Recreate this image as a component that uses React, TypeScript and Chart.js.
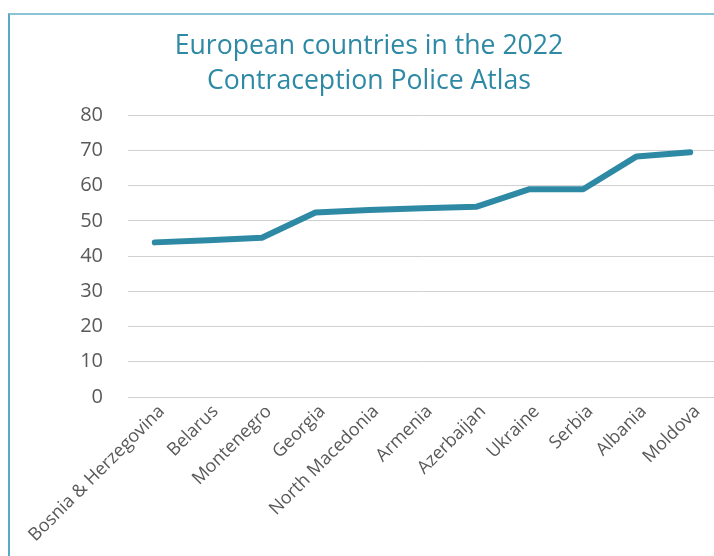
import React, { useEffect, useRef } from "react";
import { Chart, registerables } from "chart.js";

Chart.register(...registerables);

const categories = [
  "Bosnia & Herzegovina",
  "Belarus",
  "Montenegro",
  "Georgia",
  "North Macedonia",
  "Armenia",
  "Azerbaijan",
  "Ukraine",
  "Serbia",
  "Albania",
  "Moldova",
];
const values = [43.9, 44.5, 45.2, 52.4, 53.1, 53.6, 54.0, 59.0, 59.0, 68.3, 69.5];
const titleLines = ["European countries in the 2022", "Contraception Police Atlas"];
const yMin = 0;
const yMax = 80;
const yStep = 10;

export default function App() {
  const ref = useRef<HTMLCanvasElement | null>(null);
  useEffect(() => {
    if (!ref.current) return;
    const chart = new Chart(ref.current, {
      type: "line",
      data: {
        labels: categories,
        datasets: [
          {
            data: values,
            borderColor: "#2e89a5",
            borderWidth: 6,
            borderCapStyle: "round",
            borderJoinStyle: "round",
            pointRadius: 0,
            pointHoverRadius: 0,
            fill: false,
            tension: 0,
          },
        ],
      },
      options: {
        responsive: false,
        animation: false,
        devicePixelRatio: 1,
        layout: { padding: { left: 21, right: 7, top: 0, bottom: 0 } },
        plugins: {
          legend: { display: false },
          tooltip: { enabled: false },
          title: {
            display: true,
            text: titleLines,
            color: "#2e89a5",
            font: { family: "'Open Sans', 'Noto Sans', sans-serif", size: 26.6, weight: "normal", lineHeight: 1.32 },
            padding: { top: 29, bottom: 16 },
          },
        },
        scales: {
          x: {
            type: "category",
            offset: true,
            grid: { display: false, drawTicks: false },
            border: { display: false },
            ticks: {
              color: "#595959",
              font: { family: "'Open Sans', 'Noto Sans', sans-serif", size: 18 },
              minRotation: 45,
              maxRotation: 45,
              autoSkip: false,
              padding: 4,
              labelOffset: 7,
            },
            afterFit: (scale: any) => {
              scale.height = 159;
            },
          },
          y: {
            min: yMin,
            max: yMax,
            grid: { color: "#d0d0d0", lineWidth: 1, drawTicks: false },
            border: { display: false },
            ticks: {
              stepSize: yStep,
              color: "#595959",
              font: { family: "'Open Sans', 'Noto Sans', sans-serif", size: 20 },
              padding: 25,
            },
            afterFit: (scale: any) => {
              scale.width = 107;
            },
          },
        },
      },
    });
    return () => chart.destroy();
  }, []);

  return (
    <div style={{ position: "fixed", left: 0, top: 0, width: 714, height: 556, overflow: "hidden", background: "#fff" }}>
      <div
        style={{
          position: "absolute",
          left: 8,
          top: 13,
          width: 800,
          height: 700,
          borderLeft: "2px solid #5aa8c8",
          borderTop: "2px solid #8cc3d6",
        }}
      />
      <canvas ref={ref} width={724} height={556} style={{ position: "absolute", left: 0, top: 0 }} />
    </div>
  );
}
